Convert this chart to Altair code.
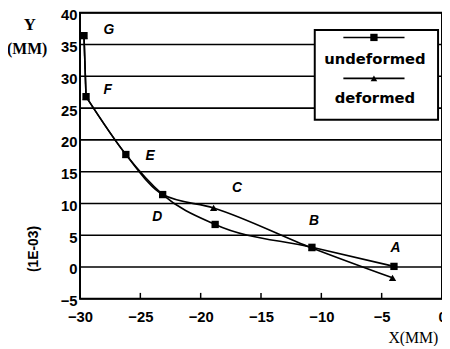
import altair as alt
import pandas as pd

# --- data ---
und_x = [-29.67, -29.5, -26.2, -23.15, -18.8, -10.78, -3.98]
und_y = [36.4, 26.8, 17.7, 11.4, 6.7, 3.1, 0.1]
def_x = [-29.67, -29.5, -26.2, -23.15, -18.93, -10.78, -4.1]
def_y = [36.4, 26.8, 17.7, 11.4, 9.3, 3.0, -1.7]

lab_text = ["G", "F", "E", "D", "C", "B", "A"]
lab_x = [-27.6, -27.7, -24.2, -23.6, -17.0, -10.6, -3.85]
lab_y = [37.3, 27.9, 17.5, 7.9, 12.5, 7.2, 3.0]

y_ticks = [-5, 0, 5, 10, 15, 20, 25, 30, 35, 40]
x_ticks = [-30, -25, -20, -15, -10, -5, 0]
x_inner_ticks = [-25, -20, -15, -10, -5]

W, H = 367, 290

und = pd.DataFrame({"x": und_x, "y": und_y, "o": range(len(und_x))})
dfm = pd.DataFrame({"x": def_x, "y": def_y, "o": range(len(def_x))})
labs = pd.DataFrame({"x": lab_x, "y": lab_y, "t": lab_text})
grid = pd.DataFrame({"y": y_ticks})
xt = pd.DataFrame({"x": x_inner_ticks})

xs = alt.Scale(domain=[-30, 0], nice=False, zero=False)
ys = alt.Scale(domain=[-5, 40], nice=False, zero=False)

axis_style = dict(grid=False, ticks=False, domain=False, title="",
                  labelFont="Liberation Sans", labelFontSize=15, labelFontWeight="bold",
                  labelColor="black", labelFlush=False, labelOverlap=False)
xax = alt.Axis(values=x_ticks, labelPadding=11, **axis_style)
yax = alt.Axis(values=y_ticks, labelPadding=3, labelBaseline="middle", labelOffset=2, **axis_style)

X = alt.X("x:Q", scale=xs, axis=xax)
Y = alt.Y("y:Q", scale=ys, axis=yax)

gridl = alt.Chart(grid).mark_rule(color="black", strokeWidth=1.6).encode(y=Y)

ticks = alt.Chart(xt).mark_rule(color="black", strokeWidth=1.5).encode(
    x=X, y=alt.value(H - 6), y2=alt.value(H))

def series(df, shape):
    top = alt.Chart(df.iloc[:2]).mark_line(color="black", strokeWidth=1.6).encode(
        x=X, y=Y, order="o:Q")
    rest = alt.Chart(df.iloc[1:]).mark_line(color="black", strokeWidth=1.6, interpolate="monotone").encode(
        x=X, y=Y, order="o:Q")
    pts = alt.Chart(df).mark_point(shape=shape, filled=True, color="black", opacity=1, size=55).encode(
        x=X, y=Y)
    return top + rest + pts

labels = alt.Chart(labs).mark_text(font="Liberation Sans", fontSize=14, fontWeight="bold",
                                   fontStyle="italic", color="black").encode(x=X, y=Y, text="t:N")

one = pd.DataFrame({"k": [0]})

# legend box (decoration)
leg_box = alt.Chart(one).mark_rect(fill="white", stroke="black", strokeWidth=2).encode(
    x=alt.value(238), x2=alt.value(363), y=alt.value(17.5), y2=alt.value(108.5))
leg_l1 = alt.Chart(one).mark_rule(color="black", strokeWidth=1.6).encode(
    x=alt.value(267), x2=alt.value(329), y=alt.value(25))
leg_s1 = alt.Chart(one).mark_point(shape="square", filled=True, color="black", opacity=1, size=55).encode(
    x=alt.value(298), y=alt.value(25))
leg_l2 = alt.Chart(one).mark_rule(color="black", strokeWidth=1.6).encode(
    x=alt.value(267), x2=alt.value(329), y=alt.value(66.5))
leg_s2 = alt.Chart(one).mark_point(shape="triangle-up", filled=True, color="black", opacity=1, size=45).encode(
    x=alt.value(298), y=alt.value(66.5))
leg_t1 = alt.Chart(one).mark_text(text="undeformed", font="DejaVu Sans", fontSize=15, fontWeight="bold",
                                  color="black", baseline="middle").encode(x=alt.value(299), y=alt.value(47))
leg_t2 = alt.Chart(one).mark_text(text="deformed", font="DejaVu Sans", fontSize=15, fontWeight="bold",
                                  color="black", baseline="middle").encode(x=alt.value(299), y=alt.value(86.5))

# axis titles (decoration)
t_y = alt.Chart(one).mark_text(text="Y", font="Liberation Serif", fontSize=17, fontWeight="bold",
                               color="black", baseline="middle").encode(x=alt.value(-51), y=alt.value(12.5))
t_mm = alt.Chart(one).mark_text(text="(MM)", font="Liberation Serif", fontSize=16, fontWeight="bold",
                                color="black", baseline="middle").encode(x=alt.value(-53.5), y=alt.value(37))
t_e = alt.Chart(one).mark_text(text="(1E-03)", font="Liberation Sans", fontSize=14, fontWeight="bold",
                               color="black", baseline="middle", angle=270).encode(x=alt.value(-47), y=alt.value(239.5))
t_x = alt.Chart(one).mark_text(text="X(MM)", font="Liberation Serif", fontSize=16,
                               color="black", baseline="middle").encode(x=alt.value(338), y=alt.value(329.5))

chart = alt.layer(
    gridl, ticks, series(dfm, "triangle-up"), series(und, "square"), labels,
    leg_box, leg_l1, leg_s1, leg_l2, leg_s2, leg_t1, leg_t2,
    t_y, t_mm, t_e, t_x,
).properties(
    width=W, height=H,
    background="white",
    autosize=alt.AutoSizeParams(type="none"),
    padding={"left": 73, "top": 2.5, "right": 0, "bottom": 45},
).configure_view(stroke="black", strokeWidth=2)

chart.save("out.html", embed_options={"renderer": "svg", "actions": False})
